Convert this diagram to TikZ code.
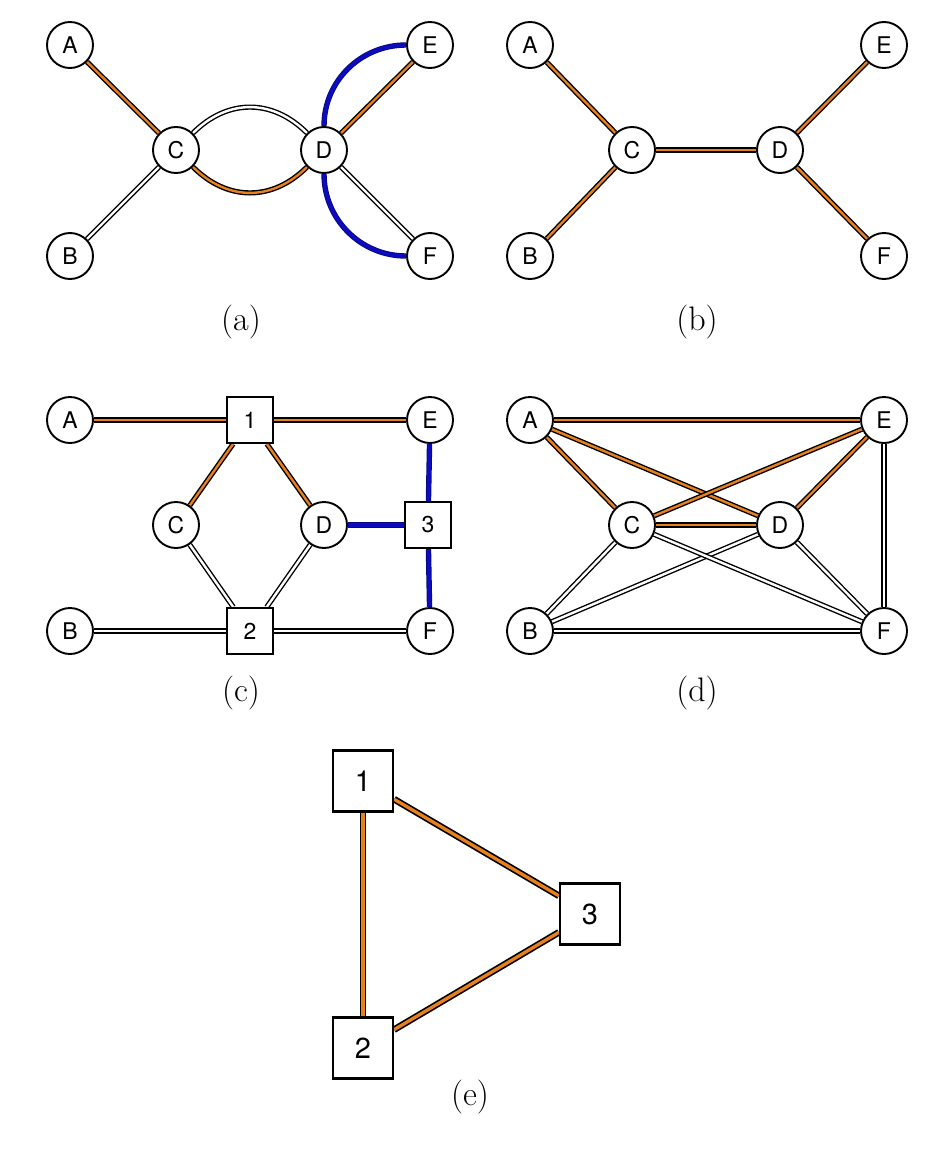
\documentclass[tikz,border=0pt]{standalone}
\usepackage{fontspec}
\newfontfamily\helv{TeX Gyre Heros}
\usetikzlibrary{backgrounds}
\definecolor{edgeorange}{RGB}{232,128,28}
\definecolor{edgeblue}{RGB}{12,12,190}
\begin{document}
\begin{tikzpicture}[x=1pt,y=-1pt,
  vtx/.style={circle,draw=black,line width=1.9pt,fill=white,minimum size=46pt,inner sep=0pt,font=\helv\fontsize{23}{23}\selectfont},
  sqn/.style={rectangle,draw=black,line width=1.9pt,fill=white,minimum size=46pt,inner sep=0pt,font=\helv\fontsize{23}{23}\selectfont},
  bigsq/.style={rectangle,draw=black,line width=2.2pt,fill=white,minimum width=60pt,minimum height=61pt,inner sep=0pt,font=\helv\fontsize{29}{29}\selectfont},
  oe/.style={draw=black,line width=1.4pt,double=edgeorange,double distance=2.4pt},
  we/.style={draw=black,line width=1.4pt,double=white,double distance=2.4pt},
  be/.style={draw=edgeblue!70!black,line width=0.9pt,double=edgeblue,double distance=3.6pt},
  boe/.style={draw=black,line width=1.7pt,double=edgeorange,double distance=3.3pt},
  capt/.style={font=\fontsize{34}{34}\selectfont}]
\useasboundingbox (0,0) rectangle (937,1164);
% ---------- (a)
\node[vtx] (aA) at (70,45) {A};
\node[vtx] (aB) at (70,256) {B};
\node[vtx] (aC) at (176,150) {C};
\node[vtx] (aD) at (324,150) {D};
\node[vtx] (aE) at (430,45) {E};
\node[vtx] (aF) at (430,256) {F};
\node[capt] (capa) at (241,322) {(a)};
% ---------- (b)
\node[vtx] (bA) at (530,45) {A};
\node[vtx] (bB) at (530,256) {B};
\node[vtx] (bC) at (632,150) {C};
\node[vtx] (bD) at (780,150) {D};
\node[vtx] (bE) at (884,45) {E};
\node[vtx] (bF) at (884,256) {F};
\node[capt] (capb) at (697,322) {(b)};
% ---------- (c)
\node[vtx] (cA) at (70,420) {A};
\node[vtx] (cB) at (70,631) {B};
\node[vtx] (cC) at (176,525) {C};
\node[vtx] (cD) at (324,525) {D};
\node[vtx] (cE) at (430,420) {E};
\node[vtx] (cF) at (430,631) {F};
\node[sqn] (c1) at (250,420) {1};
\node[sqn] (c2) at (250,631) {2};
\node[sqn] (c3) at (428,525) {3};
\node[capt] (capc) at (241,693) {(c)};
% ---------- (d)
\node[vtx] (dA) at (530,420) {A};
\node[vtx] (dB) at (530,631) {B};
\node[vtx] (dC) at (632,525) {C};
\node[vtx] (dD) at (780,525) {D};
\node[vtx] (dE) at (884,420) {E};
\node[vtx] (dF) at (884,631) {F};
\node[capt] (capd) at (697,693) {(d)};
% ---------- (e)
\node[bigsq] (e1) at (363,781) {1};
\node[bigsq] (e2) at (363,1048) {2};
\node[bigsq] (e3) at (590,914) {3};
\node[capt] (cape) at (470,1097) {(e)};
\begin{pgfonlayer}{background}
% (a)
\draw[oe] (aA) -- (aC);
\draw[we] (aB) -- (aC);
\draw[we] (aC) to[out=45,in=135,looseness=1.1] (aD);
\draw[oe] (aC) to[out=-45,in=-135,looseness=1.1] (aD);
\draw[oe] (aD) -- (aE);
\draw[we] (aD) -- (aF);
\draw[be] (aD) to[out=90,in=180] (aE);
\draw[be] (aD) to[out=-90,in=180] (aF);
% (b)
\draw[oe] (bA) -- (bC);
\draw[oe] (bB) -- (bC);
\draw[oe] (bC) -- (bD);
\draw[oe] (bD) -- (bE);
\draw[oe] (bD) -- (bF);
% (c)
\draw[oe] (cA) -- (c1);
\draw[oe] (c1) -- (cE);
\draw[oe] (c1) -- (cC);
\draw[oe] (c1) -- (cD);
\draw[we] (cC) -- (c2);
\draw[we] (cD) -- (c2);
\draw[we] (cB) -- (c2);
\draw[we] (c2) -- (cF);
\draw[be] (cE) -- (c3);
\draw[be] (cD) -- (c3);
\draw[be] (c3) -- (cF);
% (d)
\draw[oe] (dA) -- (dE);
\draw[oe] (dA) -- (dC);
\draw[oe] (dA) -- (dD);
\draw[oe] (dC) -- (dE);
\draw[oe] (dC) -- (dD);
\draw[oe] (dD) -- (dE);
\draw[we] (dB) -- (dC);
\draw[we] (dB) -- (dD);
\draw[we] (dB) -- (dF);
\draw[we] (dC) -- (dF);
\draw[we] (dD) -- (dF);
\draw[we] (dE) -- (dF);
% (e)
\draw[boe] (e1) -- (e2);
\draw[boe] (e1) -- (e3);
\draw[boe] (e2) -- (e3);
\end{pgfonlayer}
\end{tikzpicture}
\end{document}
